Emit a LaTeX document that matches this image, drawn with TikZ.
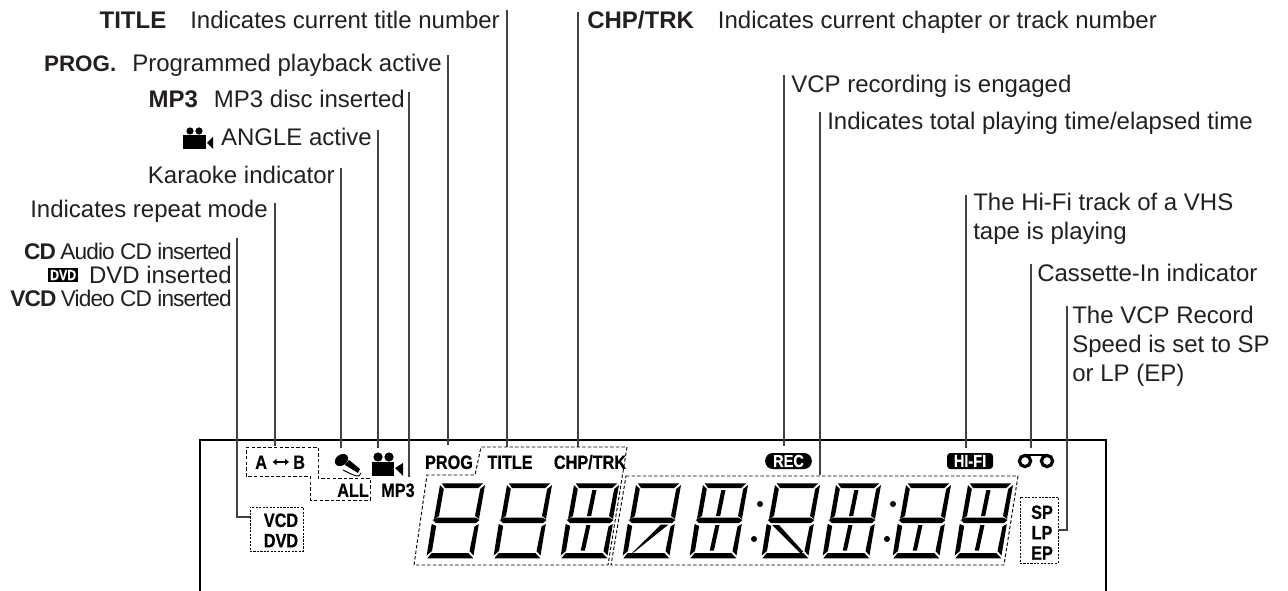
\documentclass[tikz,border=0pt]{standalone}
\usepackage{fontspec}
\setmainfont{Liberation Sans}
\newfontfamily\tightfont[LetterSpace=-4]{Liberation Sans}
\newfontfamily\condfont[FakeStretch=0.84,BoldFeatures={FakeBold=0.4}]{Liberation Sans}
\usetikzlibrary{positioning,arrows.meta,calc,fit}
\definecolor{ink}{HTML}{231F20}
\tikzset{
  digit/.pic={
    \fill (21.7,8.3) -- (63.3,8.3) -- (58.2,13) -- (25,13) -- cycle;
    \fill (20,10) -- (23.8,14) -- (19,41) -- (14,44) -- cycle;
    \fill (65,10) -- (60.2,14) -- (55,41) -- (59,44) -- cycle;
    \fill (17.3,42.5) -- (55,42.5) -- (59.5,45) -- (56,48) -- (16,48) -- (12.7,45) -- cycle;
    \fill (11.7,49) -- (16.2,51) -- (12,76) -- (6.7,80.5) -- cycle;
    \fill (58.8,49) -- (54.5,51.5) -- (49.5,76) -- (53.5,80.5) -- cycle;
    \fill (7.3,83.3) -- (11.7,78) -- (48.3,78) -- (53.3,83.3) -- cycle;
  },
  upbar/.pic={\fill (38.3,15) -- (42.5,15) -- (37.2,41) -- (33,41) -- cycle;},
  lowbar/.pic={\fill (32.3,50) -- (36.5,50) -- (30.9,75.7) -- (26.7,75.7) -- cycle;},
}
\begin{document}
\begin{tikzpicture}[
    x=.75pt, y=-.75pt,
    lab/.style={inner sep=0, text=ink, font=\fontsize{18}{21.75}\selectfont, text height=13pt, text depth=0pt},
    labm/.style={inner sep=0, text=ink, align=left, font=\fontsize{18}{21.75}\selectfont},
    tight/.style={lab, font=\fontsize{17}{21.75}\selectfont\tightfont, text height=12.3pt},
    ind/.style={inner sep=0, font=\fontsize{14.5}{16}\selectfont\condfont\bfseries, text height=10.4pt, text depth=0pt},
    leader/.style={line width=.85pt, draw=ink!85},
    dbox/.style={draw, line width=.7pt, dash pattern=on 1.6pt off 1pt, inner sep=0},
    dpoly/.style={draw, line width=.7pt, dash pattern=on 2.6pt off 1.6pt},
    badge/.style={fill=black, text=white, inner sep=0, font=\fontsize{13}{14}\selectfont\condfont\bfseries},
  ]
  \useasboundingbox (0,0) rectangle (1288,591);
  % --- Panel ---
  \draw[line width=1.8pt] (200,591) -- (200,440) -- (1106,440) -- (1106,591);
  % --- Leaders ---
  \foreach \name/\x/\top/\bot in {title/507/10/447, chp/578/12/447, prog/448/55/445, mp3/409/92/477,
      angle/378/130/448, karaoke/341/168/448, repeat/275/203/446, rec/784/75/446,
      total/820/112/475, hifi/966/195/448, cass/1031/264/448} {
    \coordinate (l\name) at (\x,\top);
    \coordinate (e\name) at (\x,\bot);
    \draw[leader] (l\name) -- (e\name);
  }
  % --- Left labels ---
  \node[lab, anchor=east] (ttitle) at (500,20) {\textbf{TITLE}\hspace{18pt}Indicates current title number};
  \node[lab, anchor=east] (tprog) at (442,63) {{\fontsize{16.8}{21}\selectfont\textbf{PROG.}}\hspace{12pt}Programmed playback active};
  \node[lab, anchor=east] (tmp3) at (405,99) {\textbf{MP3}\hspace{12pt}MP3 disc inserted};
  \node[lab, anchor=east] (tangle) at (372,137) {ANGLE active};
  \node[lab, anchor=east] (tkaraoke) at (335,175) {Karaoke indicator};
  \node[lab, anchor=east] (trepeat) at (268,209) {Indicates repeat mode};
  \node[tight, anchor=east] (tcd) at (232,251) {\textbf{CD} Audio CD inserted};
  \node[lab, anchor=east] (tdvd) at (232,275) {DVD inserted};
  \node[tight, anchor=east] (tvcd) at (232,298) {\textbf{VCD} Video CD inserted};
  \node[badge, font=\fontsize{11}{12}\selectfont\condfont\bfseries, minimum width=23pt, minimum height=11pt, left=7.5pt of tdvd] (bdvd) {DVD};
  % small camera of the label
  \fill (190,131) circle (3.6) (199,131) circle (3.6);
  \fill (183,135) rectangle (206,149);
  \fill (207,143) -- (213,137) -- (213,149) -- cycle;
  % --- Right labels ---
  \node[lab, anchor=west] (tchp) at (587,20) {\textbf{CHP/TRK}\hspace{18pt}Indicates current chapter or track number};
  \node[lab, anchor=west] (trec) at (791,84) {VCP recording is engaged};
  \node[lab, anchor=west] (ttotal) at (827,121) {Indicates total playing time/elapsed time};
  \node[labm, anchor=north west] (thifi) at (973,193) {The Hi-Fi track of a VHS\\tape is playing};
  \node[lab, anchor=west] (tcass) at (1037,273) {Cassette-In indicator};
  \node[labm, anchor=north west] (tspeed) at (1072,306) {The VCP Record\\Speed is set to SP\\or LP (EP)};
  % --- Dashed groups ---
  \draw[dpoly] (246,447) -- (318,447) -- (318,478) -- (370,478) -- (370,500) -- (310,500) -- (310,476) -- (246,476) -- cycle;
  \draw[dpoly] (414,565) -- (427,475) -- (475,475) -- (481,447) -- (627,447) -- (608,565) -- cycle;
  \draw[dpoly] (626,476) -- (1018,476) -- (1004,565) -- (611,565) -- cycle;
  \node[dbox, fit={(250,507)(303,551)}] (boxvcd) {};
  \node[dbox, fit={(1020,497)(1058,563)}] (boxsp) {};
  \coordinate (lcd) at (237,238);
  \coordinate (lsp) at (1067,306);
  \coordinate (ecd) at (boxvcd.west |- 0,517);
  \draw[leader] (lcd) |- (ecd);
  \draw[leader] (lsp) |- (boxsp.east);
  % --- Indicators ---
  \node[ind, anchor=west] (ia) at (255,462) {A};
  \node[ind, anchor=west] (ib) at (293,462) {B};
  \draw[{Triangle[length=3pt,width=4.5pt]}-{Triangle[length=3pt,width=4.5pt]}, line width=1.2pt] ([xshift=4pt]ia.east) -- ([xshift=-3pt]ib.west);
  \node[ind, anchor=west] (iall) at (337,490) {ALL};
  \node[ind, anchor=west] (imp3) at (381,490) {MP3};
  \node[ind, anchor=center] (ivcd) at (281,520) {VCD};
  \node[ind, below=4.5pt of ivcd] (idvd) {DVD};
  \node[ind, anchor=center] (iprog) at (449,462) {PROG};
  \node[ind, anchor=center] (ititle) at (510,462) {TITLE};
  \node[ind, anchor=center] (ichp) at (590,462) {CHP/TRK};
  \node[ind, anchor=center] (isp) at (1042,512) {SP};
  \node[ind, below=4.5pt of isp] (ilp) {LP};
  \node[ind, below=4.5pt of ilp] (iep) {EP};
  \node[badge, minimum width=35pt, minimum height=12pt, rounded corners=5.8pt] (irec) at (788.5,461) {REC};
  \node[badge, minimum width=34.5pt, minimum height=12pt, rounded corners=2.5pt] (ihifi) at (970,461) {HI-FI};
  % microphone
  \fill (345,465) -- (349,460) -- (360,469) -- (358,473) -- cycle;
  \fill[rotate around={35:(341.5,460)}] (341.5,460) ellipse (7.2 and 5.4);
  \draw[line width=.7pt] (361,473) .. controls (360,479) and (353,475) .. (343,470);
  % camera
  \fill (378,457) circle (4.6) (389,457) circle (4.6);
  \fill (372,462) rectangle (394,476);
  \fill (395,468) -- (403,463) -- (403,476) -- cycle;
  % cassette
  \draw[line width=2.4pt] (1025,461) circle (5.6) (1047,461) circle (5.6);
  \draw[line width=1.5pt] (1025,454.5) -- (1047,454.5);
  % --- Segments ---
  \foreach \xd in {420,487,554,616,683,755,816,886,948} {
    \pic at (\xd,475) {digit};
  }
  \foreach \xd in {554,683,816,948} {
    \pic at (\xd,475) {upbar};
  }
  \foreach \xd in {554,683,816,886,948} {
    \pic at (\xd,475) {lowbar};
  }
  \fill (616,475) ++(45,49.5) -- ++(7.5,0) -- ++(-33.5,27) -- ++(-4,2.5) -- cycle;
  \fill (755,475) ++(17,50) -- ++(7,0) -- ++(24,26.5) -- ++(-2,2.5) -- cycle;
  \fill (760,504) circle (3) (754,539) circle (3) (893,504) circle (3) (887,539) circle (3);
\end{tikzpicture}
\end{document}
